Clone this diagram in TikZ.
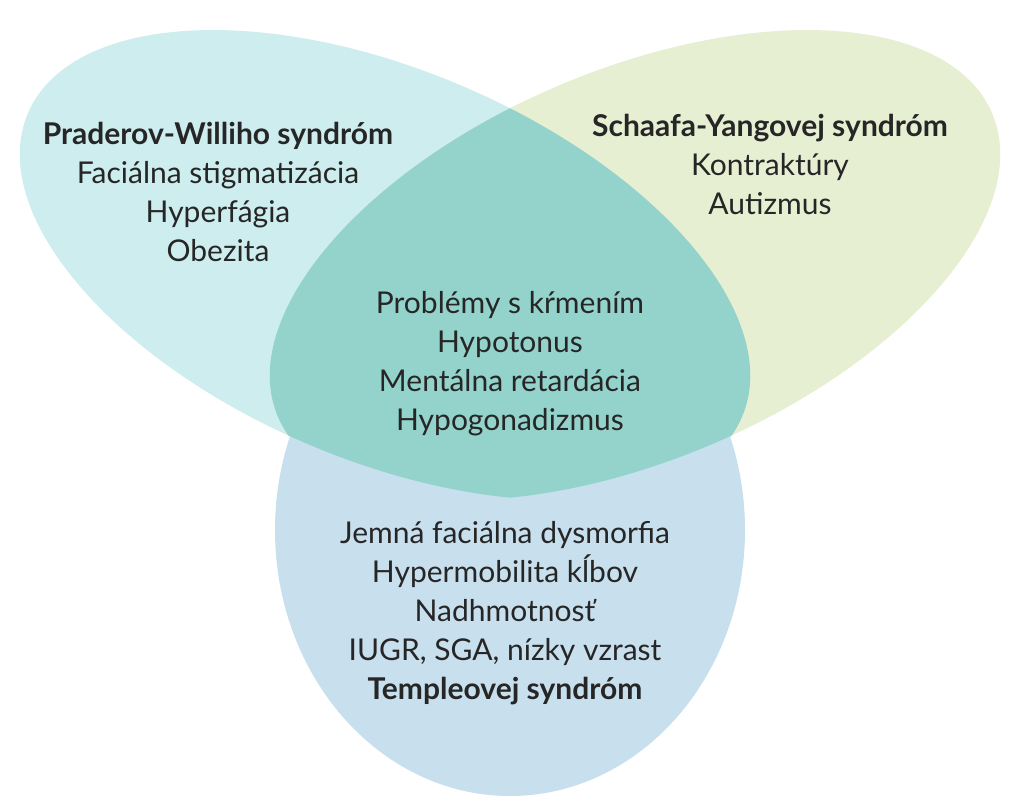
\documentclass[tikz,border=0pt]{standalone}
\usepackage{fontspec}
\setmainfont{Lato}
\definecolor{pwcol}{HTML}{CDEDEE}
\definecolor{sycol}{HTML}{E7EFD2}
\definecolor{tecol}{HTML}{C8DFEE}
\definecolor{mixcol}{HTML}{93D3CB}
\begin{document}
\begin{tikzpicture}[x=1pt,y=-1pt,
  every node/.style={align=center,font=\fontsize{30}{39}\selectfont,text=black!85}]
\useasboundingbox (0,0) rectangle (1029,800);
% the three sets
\def\pwset{(385,265) ellipse[x radius=388,y radius=195,rotate=-23]}
\def\syset{(635,265) ellipse[x radius=388,y radius=195,rotate=23]}
\fill[pwcol] \pwset;
\fill[sycol] \syset;
\fill[tecol] (510,530) ellipse[x radius=235,y radius=266];
\begin{scope}
  \clip \pwset;
  \fill[mixcol] \syset;
\end{scope}

\node (pw) at (218,192) {\textbf{Praderov-Williho syndróm}\\Faciálna stigmatizácia\\Hyperfágia\\Obezita};
\node (sy) at (770,164) {\textbf{Schaafa-Yangovej syndróm}\\Kontraktúry\\Autizmus};
\node (common) at (510,364) {Problémy s kŕmením\\Hypotonus\\Mentálna retardácia\\Hypogonadizmus};
\node (te) at (505,613) {Jemná faciálna dysmorfia\\Hypermobilita kĺbov\\Nadhmotnosť\\IUGR, SGA, nízky vzrast\\\textbf{Templeovej syndróm}};
\end{tikzpicture}
\end{document}
